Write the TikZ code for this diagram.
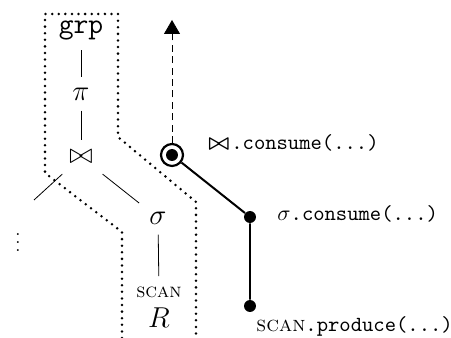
\documentclass[tikz,border=0pt]{standalone}
\usepackage{amsmath,amssymb}
\usetikzlibrary{arrows.meta,positioning}

\begin{document}
\begin{tikzpicture}[
  x=0.0176cm, y=-0.0176cm,
  tnode/.style={font=\Large,inner sep=5pt},
  tedge/.style={thin},
  bound/.style={line width=1.4pt,line cap=round,dash pattern=on 0pt off 3.3pt},
  pipe/.style={line width=1pt},
  ring/.style={circle,draw,line width=1.1pt,inner sep=0pt,minimum size=11pt},
  pdot/.style={circle,fill,inner sep=0pt,minimum size=6pt},
  plabel/.style={anchor=west,inner sep=0pt,font=\fontsize{10.8}{13}\selectfont},
  flow/.style={-{Triangle[width=8pt,length=7pt]},thin,dash pattern=on 3.5pt off 2.2pt}
]
  \useasboundingbox (0,0) rectangle (451,338);

  % Pipeline boundary
  \draw[bound] (122,338) -- (122,232) -- (45,173) -- (45,14) -- (118,14)
    -- (118,137) -- (196,202) -- (196,338);

  % Operator tree
  \node[tnode,font=\Large\ttfamily] (grp) at (81,30) {grp};
  \node[tnode] (pi) at (81,94) {$\pi$};
  \node[tnode] (join) at (81,157) {$\bowtie$};
  \node[tnode] (sigma) at (158,218) {$\sigma$};
  \node[tnode,font=\normalsize] (scan) at (159,292) {\textsc{scan}};
  \node[tnode,inner sep=0pt] (rel) at (159,318) {$R$};
  \node[font=\small] (lsub) at (18,237) {$\vdots$};
  \coordinate (lc) at (34,200);

  \draw[tedge] (grp) -- (pi);
  \draw[tedge] (pi) -- (join);
  \draw[tedge] (join) -- (lc);
  \draw[tedge] (join) -- (sigma);
  \draw[tedge] (sigma) -- (scan);

  % Pipeline steps
  \node[ring] (p1) at (172,155) {};
  \node[pdot] at (p1) {};
  \node[pdot] (p2) at (250,217) {};
  \node[pdot] (p3) at (250,306) {};
  \coordinate (top) at (172,20);

  \draw[flow] (p1) -- (top);
  \draw[pipe] (p1) -- (p2) -- (p3);

  % Labels
  \node[plabel] (l1) at (208,143) {{\boldmath$\bowtie$}\hspace{1pt}\texttt{.consume(...)}};
  \node[plabel] (l2) at (277,214) {$\sigma$\texttt{.consume(...)}};
  \node[plabel] (l3) at (256,326) {\textsc{scan}\texttt{.produce(...)}};
\end{tikzpicture}
\end{document}
